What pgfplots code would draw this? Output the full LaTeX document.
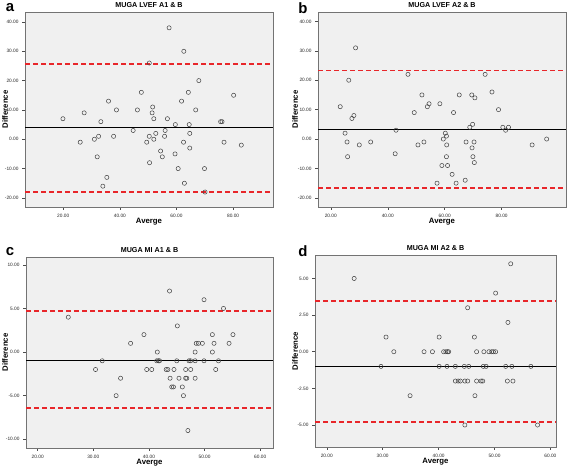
\documentclass[border=0pt]{standalone}
\usepackage{fontspec}
\setmainfont{Liberation Sans}
\usepackage{pgfplots}
\pgfplotsset{compat=1.18}
\definecolor{spssred}{HTML}{E8262A}
\pgfplotsset{
  ba/.style={
    scale only axis,
    axis background/.style={fill=black!6},
    axis line style={black!55, line width=0.8pt},
    tick align=outside, xtick pos=bottom, ytick pos=left,
    major tick length=3bp,
    tick style={black!70, line width=0.5pt},
    ticklabel style={font=\fontsize{4.8}{5}\selectfont, text=black!85},
    xticklabel style={yshift=-1bp},
    every axis title/.style={font=\bfseries\fontsize{7.2}{8}\selectfont, at={(0.5,1)}, anchor=center, yshift=6.5bp},
    xlabel style={font=\bfseries\fontsize{7.8}{9}\selectfont, at={(0.5,0)}, anchor=center, yshift=-15bp},
    ylabel style={font=\bfseries\fontsize{7.8}{9}\selectfont, at={(0,0.5)}, anchor=center},
    /pgf/number format/fixed, /pgf/number format/fixed zerofill,
    /pgf/number format/precision=2, /pgf/number format/assume math mode=true,
    xlabel={Averge}, ylabel={Difference},
  },
  pts/.style={only marks, mark=o, mark size=2.1bp, mark options={draw=black!75, line width=0.5pt}},
  meanl/.style={black, line width=1.4pt},
  loa/.style={draw=spssred, line width=1.8bp, dash pattern=on 5bp off 3bp},
}
\begin{document}
\begin{tikzpicture}[x=1bp,y=1bp]
\path[use as bounding box] (0,0) rectangle (567,469);

% ---- panel a
\begin{axis}[ba, at={(25bp,262bp)}, anchor=south west, width=248bp, height=195bp,
  xmin=6.5, xmax=94.1, ymin=-23.1, ymax=43.4,
  xtick={20,40,60,80}, ytick={-20,-10,0,10,20,30,40},
  title={MUGA LVEF A1 \& B}, ylabel style={yshift=20bp}]
\addplot[loa] coordinates {(6.5,25.6) (94.1,25.6)};
\addplot[loa] coordinates {(6.5,-17.9) (94.1,-17.9)};
\addplot[meanl] coordinates {(6.5,4.1) (94.1,4.1)};
\addplot[pts] coordinates {
(19.9,7) (27.4,9) (26,-1) (31,0) (32.5,1) (32,-6) (33.3,6) (36,13) (35.4,-13) (34,-16)
(37.8,1) (38.8,10) (44.7,3) (46.2,10) (47.6,16) (50.4,26) (49.5,-1) (50.4,1) (50.5,-8) (51.4,9)
(51.6,11) (52,7) (52,0) (52.7,2) (54.4,-4) (55,-6) (55.8,1) (56,3) (56.8,7) (57.4,38)
(59.6,5) (59.5,-5) (60.6,-10) (61.8,13) (62.5,-1) (62.6,30) (62.8,-15) (64.2,16) (64.5,5) (64.7,2)
(64.7,-3) (66.8,10) (67.9,20) (69.9,-10) (70.1,-18) (75.6,6) (76.1,6) (76.8,-1) (80.2,15) (82.9,-2)
};
\end{axis}

% ---- panel b
\begin{axis}[ba, at={(318bp,262bp)}, anchor=south west, width=248bp, height=195bp,
  xmin=15.5, xmax=102.6, ymin=-23.1, ymax=43.2,
  xtick={20,40,60,80}, ytick={-20,-10,0,10,20,30,40},
  title={MUGA LVEF A2 \& B}, ylabel style={yshift=23bp}]
\addplot[loa] coordinates {(15.5,23.3) (102.6,23.3)};
\addplot[loa] coordinates {(15.5,-16.6) (102.6,-16.6)};
\addplot[meanl] coordinates {(15.5,3.2) (102.6,3.2)};
\addplot[pts] coordinates {
(23.3,11) (25,2) (25.7,-1) (25.9,-6) (26.3,20) (27.4,7) (28.1,8) (28.7,31) (30,-2) (34,-1)
(42.6,-5) (42.9,3) (47.1,22) (49.3,9) (50.6,-2) (52,15) (52.7,-1) (53.9,11) (54.5,12) (57.3,-15)
(58.3,12) (59,-9) (59.5,0) (60.2,2) (60.6,1) (60.7,-2) (60.6,-6) (61,-9) (62.6,-12) (63.1,9)
(64,-15) (65.1,15) (67.2,-14) (67.5,-1) (68.8,4) (69.5,15) (69.6,-3) (69.8,5) (69.9,-6) (70.3,-1)
(70.4,-8) (70.6,14) (74.2,22) (76.6,16) (78.9,10) (80.4,4) (81.4,3) (82.4,4) (90.7,-2) (95.8,0)
};
\end{axis}

% ---- panel c
\begin{axis}[ba, at={(26bp,21bp)}, anchor=south west, width=247bp, height=191bp,
  xmin=17.9, xmax=62.3, ymin=-11, ymax=10.9,
  xtick={20,30,40,50,60}, ytick={-10,-5,0,5,10},
  title={MUGA MI A1 \& B}, ylabel style={yshift=21bp}]
\addplot[loa] coordinates {(17.9,4.72) (62.3,4.72)};
\addplot[loa] coordinates {(17.9,-6.44) (62.3,-6.44)};
\addplot[meanl] coordinates {(17.9,-1) (62.3,-1)};
\addplot[pts] coordinates {
(25.5,4) (30.4,-2) (31.6,-1) (34.1,-5) (34.9,-3) (36.7,1) (39.1,2) (39.6,-2) (40.5,-2) (41.4,-1)
(41.5,0) (41.7,-1) (41.9,-1) (43.1,-2) (43.4,-2) (43.7,7) (43.8,-3) (44.1,-4) (44.4,-4) (44.5,-2)
(45,-1) (45.1,3) (45.4,-3) (46,-4) (46.2,-5) (46.6,-2) (46.6,-3) (46.8,-3) (47,-9) (47.2,-1)
(47.5,-1) (47.5,-2) (48.3,0) (48.3,-1) (48.3,-3) (48.5,1) (48.9,1) (49.6,1) (49.9,6) (49.9,-1)
(51.4,2) (51.4,0) (51.7,1) (52,-2) (52.5,-1) (53.4,5) (54.4,1) (55.1,2)
};
\end{axis}

% ---- panel d
\begin{axis}[ba, at={(315bp,22bp)}, anchor=south west, width=241bp, height=192bp,
  xmin=17.9, xmax=61, ymin=-6.5, ymax=6.6,
  xtick={20,30,40,50,60}, ytick={-5,-2.5,0,2.5,5},
  title={MUGA MI A2 \& B}, ylabel style={yshift=20bp}]
\addplot[loa] coordinates {(17.9,3.48) (61,3.48)};
\addplot[loa] coordinates {(17.9,-4.82) (61,-4.82)};
\addplot[meanl] coordinates {(17.9,-1) (61,-1)};
\addplot[pts] coordinates {
(24.9,5) (29.7,-1) (30.6,1) (32,0) (34.9,-3) (37.4,0) (38.9,0) (40.1,1) (40.1,-1) (40.9,0)
(41.3,0) (41.6,0) (41.8,0) (41.5,-1) (43,-1) (43,-2) (43.5,-2) (43.9,-2) (44.6,-1) (44.7,-5)
(44.7,-2) (45.2,-2) (45.2,3) (45.4,-1) (46.5,-3) (46.4,1) (46.8,0) (46.8,-2) (47.6,-2) (47.9,-2)
(48,-1) (48.1,0) (48.5,-1) (49,0) (49.5,0) (49.8,0) (50.2,0) (50.2,4) (52,-1) (52.3,-2)
(52.4,2) (52.9,6) (53.1,-1) (53.3,-2) (56.5,-1) (57.7,-5)
};
\end{axis}

\node[font=\bfseries\fontsize{15}{15}\selectfont] at (10,461) {a};
\node[font=\bfseries\fontsize{15}{15}\selectfont] at (303,461) {b};
\node[font=\bfseries\fontsize{15}{15}\selectfont] at (10,217) {c};
\node[font=\bfseries\fontsize{15}{15}\selectfont] at (303,218) {d};
\end{tikzpicture}
\end{document}
